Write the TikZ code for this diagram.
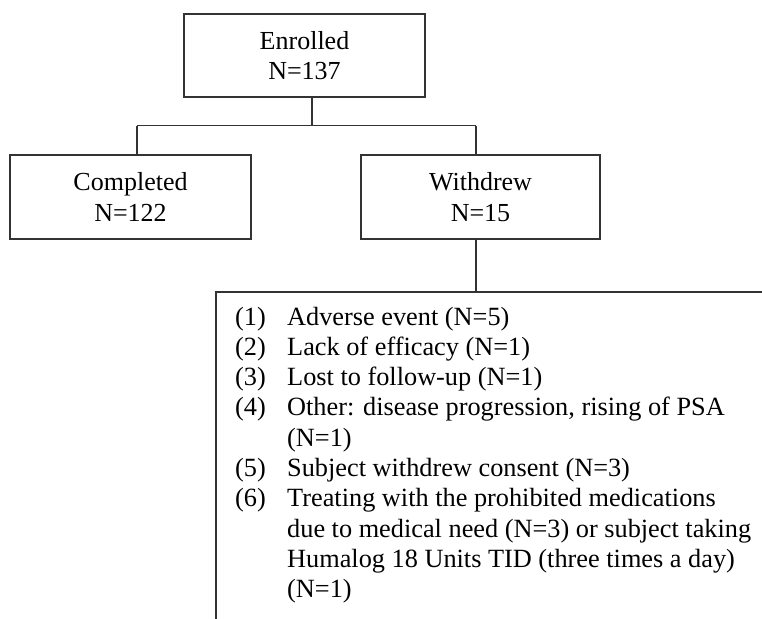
\documentclass[tikz,border=0pt]{standalone}
\usepackage{fontspec}
\setmainfont{Liberation Serif}
\tikzset{
  box/.style={draw=black!80, line width=1.5pt, rectangle, minimum width=241pt, minimum height=83pt, inner sep=0pt, align=center, font=\fontsize{26}{30.6}\selectfont},
  conn/.style={draw=black!80, line width=1.5pt},
}
\begin{document}
\begin{tikzpicture}[x=1pt,y=-1pt]
\useasboundingbox (0,0) rectangle (762,618);
\node[box] (enr) at (304.5,55.5) {Enrolled\\N=137};
\node[box, minimum height=84pt] (comp) at (130.5,197) {Completed\\N=122};
\node[box, minimum width=239pt, minimum height=84pt] (wd) at (480.5,197) {Withdrew\\N=15};
\coordinate (jm) at (312,125.5);
\coordinate (jl) at (137,125.5);
\coordinate (jr) at (476,125.5);
\coordinate (ltop) at (476,292);
\coordinate (lbl) at (216,292);
\coordinate (lbr) at (763,292);
\coordinate (lbb) at (216,619);
\draw[conn] (enr.south -| jm) -- (jm);
\draw[conn] (jl) -- (jr);
\draw[conn] (jl) -- (comp.north -| jl);
\draw[conn] (jr) -- (wd.north -| jr);
\draw[conn] (wd.south -| ltop) -- (ltop);
\draw[conn] (lbr) -- (lbl) -- (lbb);
\node[anchor=base west, inner sep=0pt, font=\fontsize{26.3}{30.3}\selectfont] (list) at (235,325) {%
\begin{tabular}[t]{@{}p{52pt}@{}l@{}}
(1) & Adverse event (N=5)\\
(2) & Lack of efficacy (N=1)\\
(3) & Lost to follow-up (N=1)\\
(4) & Other: disease progression, rising of PSA\\
    & (N=1)\\
(5) & Subject withdrew consent (N=3)\\
(6) & Treating with the prohibited medications\\
    & due to medical need (N=3) or subject taking\\
    & Humalog 18 Units TID (three times a day)\\
    & (N=1)
\end{tabular}};
\end{tikzpicture}
\end{document}
